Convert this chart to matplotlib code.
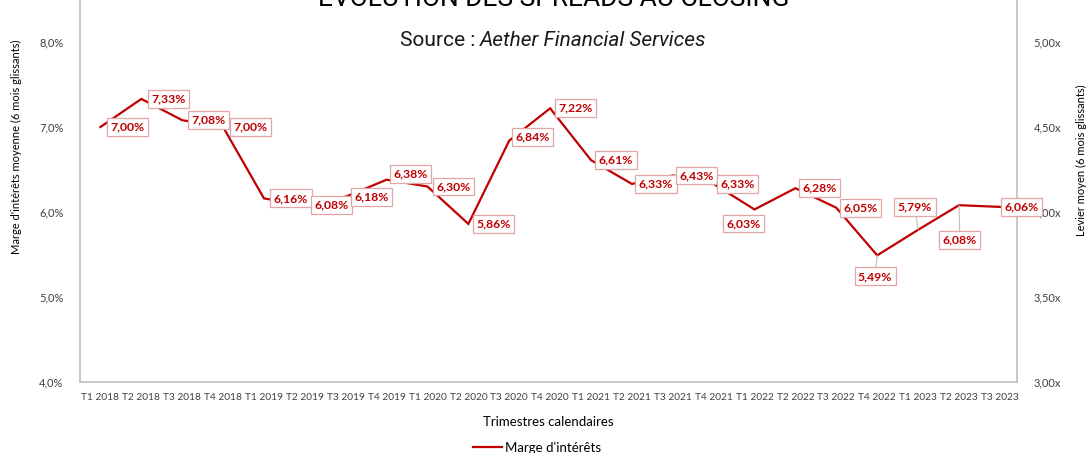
import matplotlib
matplotlib.use("Agg")
import matplotlib.pyplot as plt
from matplotlib.lines import Line2D
from matplotlib.ticker import FuncFormatter, FixedLocator

# --- DONNEES ---
TRIMESTRES = [
    "T1 2018", "T2 2018", "T3 2018", "T4 2018",
    "T1 2019", "T2 2019", "T3 2019", "T4 2019",
    "T1 2020", "T2 2020", "T3 2020", "T4 2020",
    "T1 2021", "T2 2021", "T3 2021", "T4 2021",
    "T1 2022", "T2 2022", "T3 2022", "T4 2022",
    "T1 2023", "T2 2023", "T3 2023",
]
MARGE = [7.00, 7.33, 7.08, 7.00, 6.16, 6.08, 6.18, 6.38, 6.30, 5.86, 6.84, 7.22,
         6.61, 6.33, 6.43, 6.33, 6.03, 6.28, 6.05, 5.49, 5.79, 6.08, 6.06]
TICKS_MARGE = [4.0, 5.0, 6.0, 7.0, 8.0]
TICKS_LEVIER = [3.0, 3.5, 4.0, 4.5, 5.0]

# decalage des etiquettes (pixels) et trait de rappel
LABEL_OFFSETS = [(27, 0), (27, 0), (26, 0), (27, 0), (27, 0), (27, 0), (26, 0),
                 (24, 6), (26, 0), (25, 0), (23, 4), (25, 0), (25, 0), (24, 0),
                 (24, 0), (24, 0), (-11, -14), (24, 0), (24, 0), (-2, -21),
                 (-3, 23), (1, -35), (22, 0)]
LEADERS = {19, 20, 21}

ROUGE = "#C00000"
GRIS = "#BFBFBF"
TXT = "#404040"
FONT = ["Lato", "DejaVu Sans"]

plt.rcParams["font.family"] = FONT

W, H = 1089, 453
fig = plt.figure(figsize=(W / 100, H / 100), dpi=100)
ax = fig.add_axes([80 / W, (H - 382) / H, (1017 - 80) / W, 382 / H])

x = list(range(len(TRIMESTRES)))
ax.plot(x, MARGE, color=ROUGE, lw=1.6, solid_joinstyle="miter", zorder=2)

ax.set_xlim(-0.5, len(TRIMESTRES) - 1 + 0.42)
ax.set_ylim(4.0, 4.0 + 382 / 85)
ax.yaxis.set_major_locator(FixedLocator(TICKS_MARGE))
ax.yaxis.set_major_formatter(FuncFormatter(lambda v, p: f"{v:.1f}%".replace(".", ",")))
ax.set_xticks(x)
ax.set_xticklabels(TRIMESTRES)
ax.tick_params(axis="both", length=0, colors=TXT)
ax.tick_params(axis="y", labelsize=8, pad=12)
ax.tick_params(axis="x", labelsize=7.3, pad=8)

ax.spines["top"].set_visible(False)
for side in ["left", "bottom", "right"]:
    ax.spines[side].set_color(GRIS)
    ax.spines[side].set_linewidth(1.2)

ax2 = ax.twinx()
ax2.set_ylim(3.0, 3.0 + 382 / 170)
ax2.yaxis.set_major_locator(FixedLocator(TICKS_LEVIER))
ax2.yaxis.set_major_formatter(FuncFormatter(lambda v, p: f"{v:.2f}x".replace(".", ",")))
ax2.tick_params(axis="y", length=0, colors=TXT, labelsize=8, pad=12)
for side in ax2.spines:
    ax2.spines[side].set_visible(False)

# etiquettes de valeur
for i, v in enumerate(MARGE):
    dx, dy = LABEL_OFFSETS[i]
    props = None
    if i in LEADERS:
        props = dict(arrowstyle="-", color=GRIS, lw=0.8, shrinkA=0, shrinkB=0)
    ax2.annotate(f"{v:.2f}%".replace(".", ","), xy=(i, v), xycoords=ax.transData,
                 xytext=(dx, dy), textcoords="offset pixels",
                 ha="center", va="center", fontsize=8.8, fontweight="bold",
                 color=ROUGE, zorder=5, arrowprops=props,
                 bbox=dict(boxstyle="square,pad=0.28", fc="white", ec="#E3A6A6", lw=0.9))

# titres d'axes
fig.text(16 / W, 1 - 147 / H, "Marge d'intérêts moyenne (6 mois glissants)",
         rotation=90, ha="center", va="center", fontsize=8, color="#000000")
fig.text(1081 / W, 1 - 160 / H, "Levier moyen (6 mois glissants)",
         rotation=90, ha="center", va="center", fontsize=8, color="#000000")
fig.text(548 / W, 1 - 422 / H, "Trimestres calendaires",
         ha="center", va="center", fontsize=9.5, color="#000000")

# titre (coupe en haut) et source
fig.text(554 / W, 1 - 6 / H, "EVOLUTION DES SPREADS AU CLOSING",
         ha="center", va="baseline", fontsize=19, color="#000000",
         family=["Roboto", "DejaVu Sans"])

t1 = fig.text(0, 1 - 41 / H, "Source : ", ha="left", va="center", fontsize=15,
              family=["Roboto", "DejaVu Sans"], color="#1a1a1a")
t2 = fig.text(0, 1 - 41 / H, "Aether Financial Services", ha="left", va="center",
              fontsize=15, style="italic",
              family=["Roboto", "DejaVu Sans"], color="#1a1a1a")
r = fig.canvas.get_renderer()
w1 = t1.get_window_extent(r).width
w2 = t2.get_window_extent(r).width
x0 = 553 - (w1 + w2) / 2
t1.set_x(x0 / W)
t2.set_x((x0 + w1) / W)

# legende
leg = fig.legend(handles=[Line2D([], [], color=ROUGE, lw=1.6)], labels=["Marge d'intérêts"],
                 loc="center", bbox_to_anchor=(537 / W, 1 - 448 / H), frameon=False,
                 fontsize=9.5, handlelength=2.2, handletextpad=0.2)

fig.savefig("out.png", dpi=100)
